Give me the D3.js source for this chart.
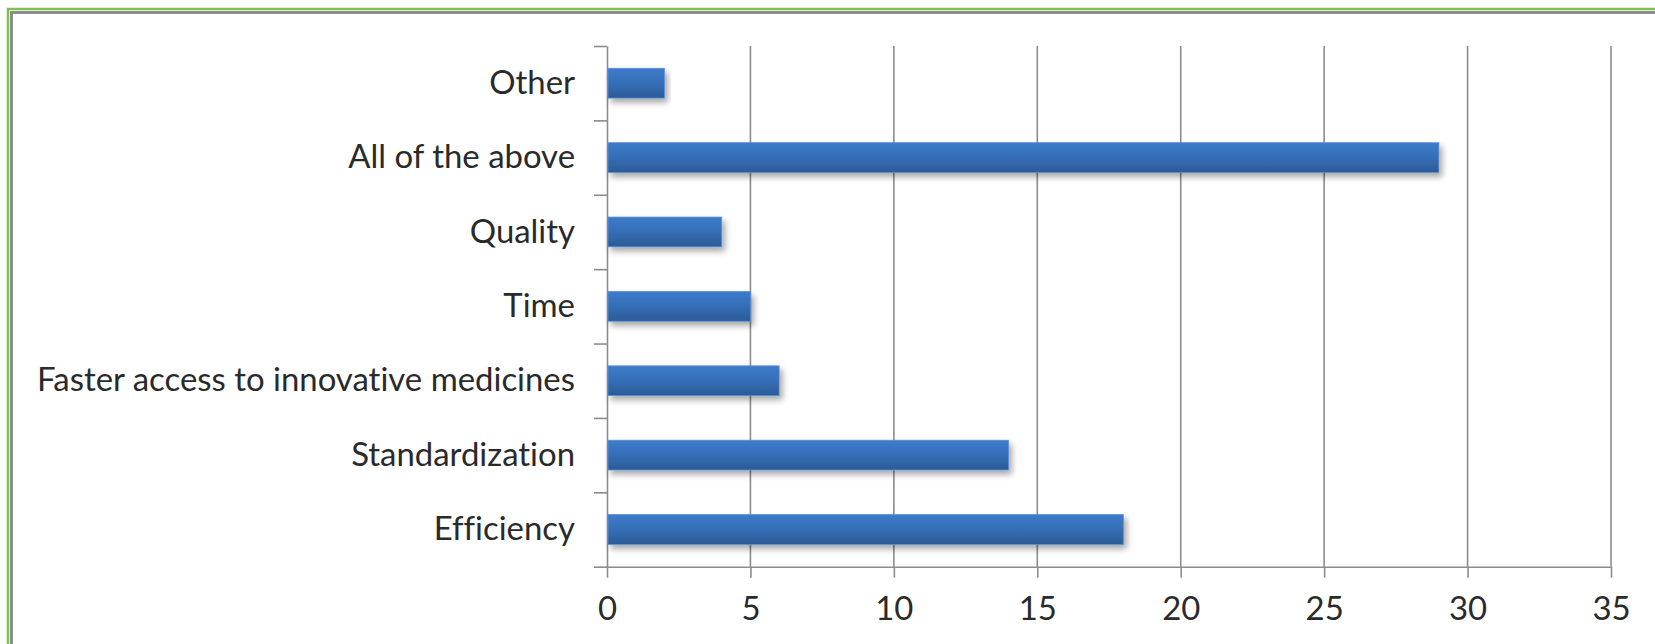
<!DOCTYPE html>
<html>
<head>
<meta charset="utf-8">
<script src="https://cdn.jsdelivr.net/npm/d3@7"></script>
<style>
  html, body { margin: 0; padding: 0; background: #fff; }
  svg { display: block; }
  text { font-variant-ligatures: none; font-feature-settings: "liga" 0, "clig" 0; }
</style>
</head>
<body>
<div id="chart"></div>
<script>
const categories = ["Other", "All of the above", "Quality", "Time", "Faster access to innovative medicines", "Standardization", "Efficiency"];
const values = [2, 29, 4, 5, 6, 14, 18];
const xTicks = [0, 5, 10, 15, 20, 25, 30, 35];

(function(){
const W = 1655, H = 644;
const pLeft = 607, pRight = 1611, pTop = 46, pBottom = 566.7;
const fontFamily = "Lato, 'Open Sans', sans-serif";

const svg = d3.select("#chart").append("svg").attr("width", W).attr("height", H);

const defs = svg.append("defs");
const grad = defs.append("linearGradient").attr("id", "barGrad")
  .attr("x1", 0).attr("y1", 0).attr("x2", 0).attr("y2", 1);
grad.append("stop").attr("offset", "0%").attr("stop-color", "#3d7bcb");
grad.append("stop").attr("offset", "45%").attr("stop-color", "#3670b9");
grad.append("stop").attr("offset", "100%").attr("stop-color", "#2b5b96");
const f = defs.append("filter").attr("id", "shadow")
  .attr("x", "-5%").attr("y", "-30%").attr("width", "115%").attr("height", "180%");
f.append("feDropShadow").attr("dx", 3).attr("dy", 4).attr("stdDeviation", 3)
  .attr("flood-color", "#000").attr("flood-opacity", 0.35);

// frame
svg.append("rect").attr("x", 11.5).attr("y", 12.5).attr("width", 1700).attr("height", 700)
  .attr("fill", "none").attr("stroke", "#8d8d8d").attr("stroke-width", 3);
svg.append("rect").attr("x", 8).attr("y", 9).attr("width", 1700).attr("height", 700)
  .attr("fill", "none").attr("stroke", "#7cc24e").attr("stroke-width", 2.5);

const x = d3.scaleLinear().domain([0, 35]).range([pLeft, pRight]);
const y = d3.scaleBand().domain(categories).range([pTop, pBottom]).paddingInner(0.6).paddingOuter(0.3);
const yb = d3.scaleLinear().domain([0, categories.length]).range([pTop, pBottom]);

// gridlines
svg.append("g").selectAll("line").data(xTicks.filter(d => d > 0)).join("line")
  .attr("x1", d => x(d)).attr("x2", d => x(d))
  .attr("y1", pTop).attr("y2", pBottom)
  .attr("stroke", "#8c8c8c").attr("stroke-width", 1.6);

// x axis
const gx = svg.append("g").attr("transform", `translate(0,${pBottom})`)
  .call(d3.axisBottom(x).tickValues(xTicks).tickSize(11).tickPadding(19).tickSizeOuter(0));
gx.select(".domain").attr("stroke", "#8c8c8c").attr("stroke-width", 1.6);
gx.selectAll(".tick line").attr("stroke", "#8c8c8c").attr("stroke-width", 1.6);
gx.selectAll("text").attr("font-family", fontFamily).attr("font-size", 28).attr("fill", "#2a2a2a");

// y axis ticks at category boundaries
const gy = svg.append("g").attr("transform", `translate(${pLeft},0)`)
  .call(d3.axisLeft(yb).tickValues(d3.range(0, categories.length + 1)).tickSize(13).tickFormat("").tickSizeOuter(0));
gy.select(".domain").attr("stroke", "#8c8c8c").attr("stroke-width", 1.6);
gy.selectAll(".tick line").attr("stroke", "#8c8c8c").attr("stroke-width", 1.6);

// category labels
const gl = svg.append("g").attr("transform", `translate(${pLeft},0)`)
  .call(d3.axisLeft(y).tickSize(0).tickPadding(32));
gl.select(".domain").remove();
gl.selectAll("text").attr("font-family", fontFamily).attr("font-size", 28).attr("fill", "#2a2a2a");

// fit font so widest label ~538px
let maxW = 0;
gl.selectAll("text").each(function(){ maxW = Math.max(maxW, this.getComputedTextLength()); });
const fs = 28 * 538 / maxW;
gl.selectAll("text").attr("font-size", fs);
gx.selectAll("text").attr("font-size", fs);

// bars
svg.append("g").selectAll("rect").data(categories.map((c, i) => ({c, v: values[i]}))).join("rect")
  .attr("x", x(0) + 1).attr("y", d => y(d.c))
  .attr("width", d => x(d.v) - x(0) - 1).attr("height", y.bandwidth())
  .attr("fill", "url(#barGrad)").attr("stroke", "#5a8fd6").attr("stroke-width", 0.8)
  .attr("filter", "url(#shadow)");
})();
</script>
</body>
</html>
